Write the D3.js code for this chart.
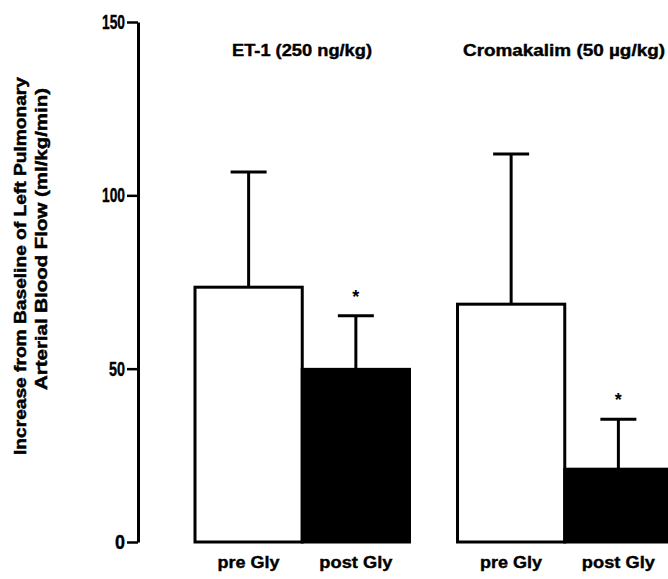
<!DOCTYPE html>
<html lang="en">
<head>
  <meta charset="UTF-8" />
  <title>Left pulmonary arterial blood flow</title>
  <script src="https://d3js.org/d3.v7.min.js"></script>
  <style>
    body {
      margin: 0;
      background-color: #ffffff;
    }

    svg text {
      font-family: 'Liberation Sans', Arial, sans-serif;
      font-weight: bold;
      fill: #000;
    }
  </style>
</head>
<body>

  <div id="chart"></div>

  <script>
    // values
    const groups = ["ET-1 (250 ng/kg)", "Cromakalim (50 \u00b5g/kg)"];
    const conditions = ["pre Gly", "post Gly"];
    const etMeans = [73.5, 49.8];
    const etErrors = [33.2, 15.5];
    const cromMeans = [68.6, 21.0];
    const cromErrors = [43.3, 14.4];
    const significant = [false, true];
    const yTicks = [0, 50, 100, 150];

    function buildRows() {
      const means = [etMeans, cromMeans];
      const errors = [etErrors, cromErrors];
      const rows = [];
      groups.forEach((g, gi) => {
        conditions.forEach((c, ci) => {
          rows.push({
            group: g,
            condition: c,
            mean: means[gi][ci],
            err: errors[gi][ci],
            star: significant[ci]
          });
        });
      });
      return rows;
    }

    function renderChart(data) {
      const svgWidth = 668;
      const svgHeight = 579;

      const svg = d3.select("#chart")
        .append("svg")
        .attr("width", svgWidth)
        .attr("height", svgHeight);

      const y = d3.scaleLinear()
        .domain([0, 150])
        .range([542, 22]);

      const x0 = d3.scaleBand()
        .domain(groups)
        .range([195, 672])
        .paddingInner(0.183);

      const x1 = d3.scaleBand()
        .domain(conditions)
        .range([0, x0.bandwidth()]);

      // y axis
      const axis = svg.append("g")
        .attr("transform", "translate(138,0)")
        .call(d3.axisLeft(y).tickValues(yTicks).tickSize(11).tickSizeOuter(0).tickPadding(2));

      axis.attr("font-size", 20).attr("font-family", null);
      axis.select(".domain").attr("stroke-width", 3);
      axis.selectAll(".tick line").attr("stroke-width", 2.5);
      axis.selectAll(".tick text")
        .style("font-size", "20px")
        .style("font-weight", "bold")
        .attr("stroke", "#000")
        .attr("stroke-width", 0.4)
        .attr("textLength", d => d === 0 ? 10 : (d < 100 ? 16 : 23))
        .attr("lengthAdjust", "spacingAndGlyphs");

      // axis title, two lines
      const yLabel = [
        { text: "Increase from Baseline of Left Pulmonary", x: 26, cy: 266, len: 378 },
        { text: "Arterial Blood Flow (ml/kg/min)", x: 47, cy: 239, len: 302 }
      ];
      svg.selectAll(".ylabel")
        .data(yLabel)
        .enter()
        .append("text")
        .attr("class", "ylabel")
        .attr("transform", d => `translate(${d.x},${d.cy}) rotate(-90)`)
        .attr("text-anchor", "middle")
        .attr("font-size", 17)
        .attr("stroke", "#000")
        .attr("stroke-width", 0.5)
        .attr("textLength", d => d.len)
        .attr("lengthAdjust", "spacingAndGlyphs")
        .text(d => d.text);

      // group titles
      const titleLen = [140, 202];
      svg.selectAll(".gtitle")
        .data(groups)
        .enter()
        .append("text")
        .attr("class", "gtitle")
        .attr("x", (d, i) => i === 0 ? 302 : 564)
        .attr("y", 56)
        .attr("text-anchor", "middle")
        .attr("font-size", 16)
        .attr("stroke", "#000")
        .attr("stroke-width", 0.4)
        .attr("textLength", (d, i) => titleLen[i])
        .attr("lengthAdjust", "spacingAndGlyphs")
        .text(d => d);

      const cx = d => x0(d.group) + x1(d.condition) + x1.bandwidth() / 2;

      // error bars (upper only)
      const capHalf = 18;
      const errG = svg.append("g")
        .attr("stroke", "#000")
        .attr("stroke-width", 3);

      errG.selectAll(".stem")
        .data(data)
        .enter()
        .append("line")
        .attr("x1", cx)
        .attr("x2", cx)
        .attr("y1", d => y(d.mean))
        .attr("y2", d => y(d.mean + d.err));

      errG.selectAll(".cap")
        .data(data)
        .enter()
        .append("line")
        .attr("x1", d => cx(d) - capHalf)
        .attr("x2", d => cx(d) + capHalf)
        .attr("y1", d => y(d.mean + d.err))
        .attr("y2", d => y(d.mean + d.err));

      // bars
      svg.selectAll(".bar")
        .data(data)
        .enter()
        .append("rect")
        .attr("class", "bar")
        .attr("x", d => x0(d.group) + x1(d.condition))
        .attr("y", d => y(d.mean))
        .attr("width", x1.bandwidth())
        .attr("height", d => y(0) - y(d.mean))
        .attr("fill", d => d.condition === "pre Gly" ? "#fff" : "#000")
        .attr("stroke", "#000")
        .attr("stroke-width", 3);

      // significance markers
      svg.selectAll(".star")
        .data(data.filter(d => d.star))
        .enter()
        .append("text")
        .attr("class", "star")
        .attr("x", cx)
        .attr("y", d => y(d.mean + d.err) - 13)
        .attr("text-anchor", "middle")
        .attr("font-size", 18)
        .text("*");

      // condition labels
      svg.selectAll(".clabel")
        .data(data)
        .enter()
        .append("text")
        .attr("class", "clabel")
        .attr("x", cx)
        .attr("y", 568)
        .attr("text-anchor", "middle")
        .attr("font-size", 17)
        .attr("stroke", "#000")
        .attr("stroke-width", 0.4)
        .attr("textLength", d => d.condition === "pre Gly" ? 62 : 73)
        .attr("lengthAdjust", "spacingAndGlyphs")
        .text(d => d.condition);
    }

    renderChart(buildRows());
  </script>

</body>
</html>
